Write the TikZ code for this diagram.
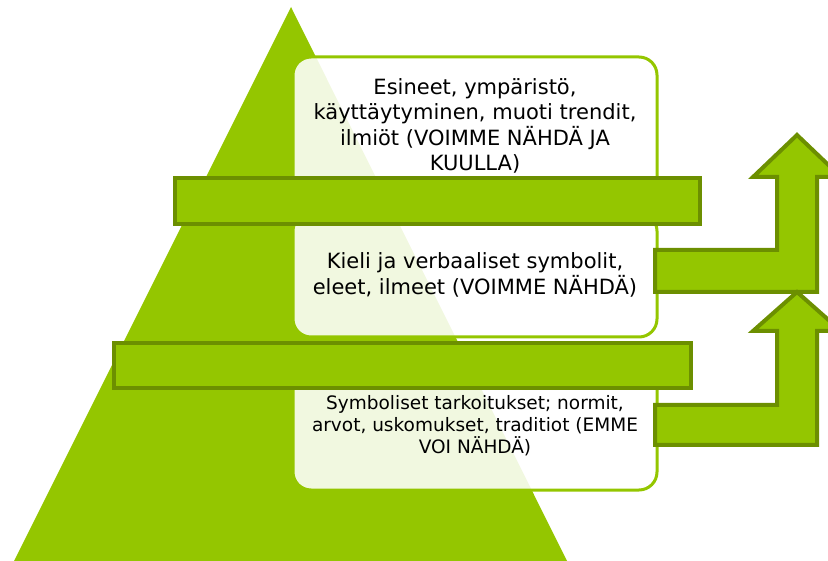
\documentclass[tikz,border=0pt]{standalone}
\usepackage{fontspec}
\setmainfont{DejaVu Sans}
\definecolor{leaf}{RGB}{148,198,0}
\definecolor{moss}{RGB}{108,143,0}

\begin{document}
\begin{tikzpicture}[x=1pt,y=-1pt,
    layer/.style={draw=leaf,line width=3pt,fill=white,fill opacity=0.88,
      text opacity=1,text=black,rounded corners=18pt,align=center,
      minimum width=364pt,inner sep=0pt,
      font={\fontsize{21}{25.5}\selectfont}},
    band/.style={draw=moss,line width=4pt,fill=leaf,line join=miter}]
    \useasboundingbox (0,0) rectangle (828,561);
    \fill[leaf] (14,561) -- (291,7) -- (567,561) -- cycle;

    \node[layer,minimum height=138pt] (seen) at (475,126)
      {Esineet, ympäristö,\\ käyttäytyminen, muoti trendit,\\
       ilmiöt (VOIMME NÄHDÄ JA\\ KUULLA)};
    \node[layer,minimum height=124pt] (words) at (475,275)
      {Kieli ja verbaaliset symbolit,\\ eleet, ilmeet (VOIMME NÄHDÄ)};
    \node[layer,minimum height=128pt,font={\fontsize{18.5}{22}\selectfont}]
      (values) at (475,426)
      {Symboliset tarkoitukset; normit,\\ arvot, uskomukset, traditiot (EMME\\
       VOI NÄHDÄ)};

    \draw[band] (175,178) rectangle (700,224);
    \draw[band] (114,343) rectangle (691,388);

    \draw[band] (655,250) -- (777,250) -- (777,177) -- (753,177) -- (797,135)
      -- (841,177) -- (817,177) -- (817,292) -- (655,292) -- cycle;
    \draw[band] (655,405) -- (777,405) -- (777,331) -- (753,331) -- (797,292)
      -- (841,331) -- (817,331) -- (817,445) -- (655,445) -- cycle;
\end{tikzpicture}
\end{document}
